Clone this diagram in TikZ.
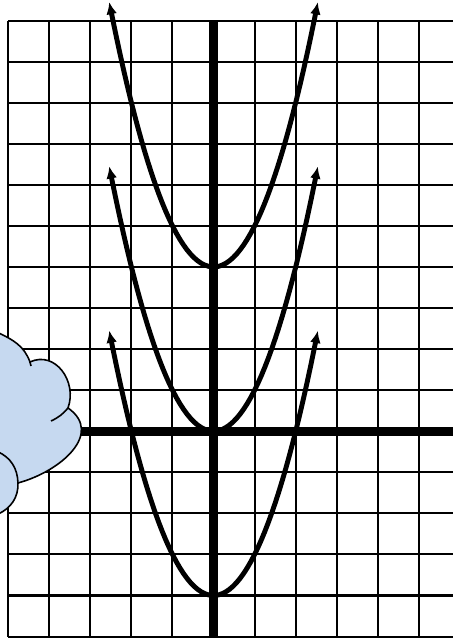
\documentclass[tikz,border=0pt]{standalone}
\usetikzlibrary{arrows.meta}
\definecolor{cloudblue}{RGB}{198,217,240}
\begin{document}
\begin{tikzpicture}[declare function={f(\x)=\x*\x;},
  gridline/.style={line width=1.4pt},
  axisline/.style={line width=6.3pt},
  curve/.style={line width=3.4pt,{Latex[length=8.5pt,width=7.5pt]}-{Latex[length=8.5pt,width=7.5pt]}},
  cloudline/.style={line width=1.1pt}]
\pgfmathsetmacro{\r}{2.54}
\useasboundingbox (-5.2,-5.035) rectangle (5.83,10.5);
\clip (-5.2,-5.035) rectangle (5.83,10.5);
\draw[gridline] (-5,-5) grid (6,10);
\draw[axisline] (-5,0)--(6,0);
\draw[axisline] (0,-5)--(0,10);
\foreach \k in {-4,0,4}
  \draw[curve] plot[domain=-\r:\r,samples=60]({\x},{f(\x)+\k});
%cloud
\filldraw[cloudline,fill=cloudblue] (-5.6,2.45)--(-5.25,2.40) to[out=-25,in=110] (-4.470,1.686)
  to[out=25,in=70,looseness=1.2] (-3.544,0.566)
  to[out=-35,in=15,looseness=1.25] (-4.762,-1.260)
  to[out=-88,in=25] (-5.25,-2.02)--(-5.6,-2.05)--cycle;
\draw[cloudline] (-4.470,1.686)--(-4.445,1.588);
\draw[cloudline] (-3.958,0.249) to[out=25,in=-130] (-3.544,0.566);
\draw[cloudline] (-5.25,-0.50) to[out=-25,in=92] (-4.762,-1.260);
\end{tikzpicture}
\end{document}
